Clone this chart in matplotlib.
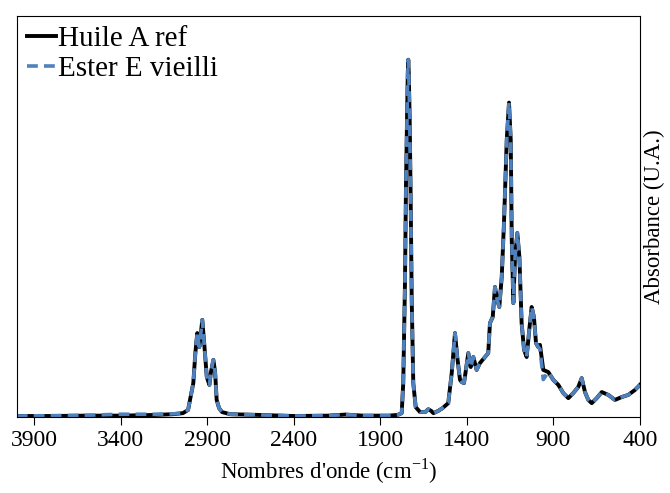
import numpy as np
import matplotlib
matplotlib.use('Agg')
import matplotlib.pyplot as plt

plt.rcParams['font.family'] = ['Liberation Serif', 'DejaVu Serif']
plt.rcParams['mathtext.fontset'] = 'custom'
plt.rcParams['mathtext.rm'] = 'Liberation Serif'

# wavenumbers (cm-1)
wn = [4000, 3800, 3600, 3400, 3200, 3100, 3040, 3010, 2999, 2980, 2968, 2957,
      2945, 2928, 2914, 2902, 2887, 2878, 2864, 2854, 2845, 2831, 2814, 2767,
      2600, 2400, 2200, 2100, 2000, 1850, 1800, 1776, 1767, 1757, 1751, 1745,
      1741, 1738, 1735, 1730, 1724, 1718, 1709, 1695, 1670, 1640, 1622, 1605,
      1593, 1566, 1540, 1507, 1487, 1468, 1455, 1439, 1429, 1416, 1391, 1377,
      1362, 1343, 1324, 1295, 1276, 1266, 1250, 1237, 1224, 1212, 1198, 1185,
      1169, 1156, 1146, 1140, 1131, 1121, 1108, 1096, 1083, 1069, 1054, 1039,
      1025, 1012, 1000, 987, 977, 958, 929, 900, 871, 842, 813, 785, 756, 736,
      717, 698, 678, 649, 620, 582, 544, 505, 467, 428, 400]

huile_ref = [0.003, 0.003, 0.004, 0.004, 0.006, 0.008, 0.011, 0.020, 0.048, 0.095,
             0.180, 0.235, 0.196, 0.272, 0.188, 0.112, 0.090, 0.126, 0.160, 0.126,
             0.048, 0.025, 0.014, 0.008, 0.006, 0.003, 0.004, 0.007, 0.004, 0.004,
             0.006, 0.011, 0.095, 0.375, 0.655, 0.840, 0.960, 1.000, 0.960, 0.840,
             0.608, 0.328, 0.095, 0.028, 0.014, 0.014, 0.022, 0.017, 0.011, 0.017,
             0.025, 0.039, 0.123, 0.235, 0.168, 0.104, 0.098, 0.095, 0.179, 0.140,
             0.168, 0.132, 0.151, 0.168, 0.179, 0.263, 0.280, 0.364, 0.328, 0.308,
             0.392, 0.543, 0.776, 0.880, 0.776, 0.496, 0.319, 0.448, 0.515, 0.448,
             0.263, 0.188, 0.168, 0.244, 0.308, 0.280, 0.207, 0.196, 0.202, 0.132,
             0.126, 0.104, 0.090, 0.067, 0.053, 0.067, 0.084, 0.109, 0.070, 0.048,
             0.039, 0.053, 0.070, 0.062, 0.048, 0.056, 0.062, 0.076, 0.090]

ester_vieilli = [0.003, 0.004, 0.005, 0.008, 0.008, 0.009, 0.011, 0.020, 0.048, 0.095,
                 0.180, 0.235, 0.196, 0.272, 0.188, 0.112, 0.090, 0.126, 0.160, 0.126,
                 0.048, 0.025, 0.014, 0.008, 0.006, 0.003, 0.004, 0.007, 0.004, 0.004,
                 0.006, 0.011, 0.095, 0.375, 0.655, 0.840, 0.960, 1.000, 0.960, 0.840,
                 0.608, 0.328, 0.095, 0.028, 0.014, 0.014, 0.022, 0.017, 0.011, 0.017,
                 0.025, 0.039, 0.123, 0.235, 0.168, 0.104, 0.098, 0.095, 0.179, 0.140,
                 0.168, 0.132, 0.151, 0.168, 0.179, 0.263, 0.280, 0.364, 0.328, 0.308,
                 0.392, 0.543, 0.776, 0.880, 0.776, 0.496, 0.319, 0.448, 0.515, 0.448,
                 0.263, 0.188, 0.168, 0.244, 0.308, 0.280, 0.207, 0.196, 0.190, 0.105,
                 0.126, 0.104, 0.090, 0.067, 0.053, 0.067, 0.084, 0.109, 0.070, 0.048,
                 0.039, 0.053, 0.070, 0.062, 0.048, 0.056, 0.062, 0.076, 0.090]

xticks = [3900, 3400, 2900, 2400, 1900, 1400, 900, 400]

fig = plt.figure(figsize=(6.7, 4.93), dpi=100)
ax = fig.add_axes([0.025, 0.154, 0.93, 0.814])

ax.plot(wn, huile_ref, color='black', lw=2.8, label='Huile A ref')
ax.plot(wn, ester_vieilli, color='#4F81BD', lw=2.6, dashes=(3, 1.7),
        label='Ester E vieilli')

ax.set_xlim(4000, 400)
ax.set_ylim(0, 1.123)
ax.set_xticks(xticks)
ax.set_yticks([])
ax.tick_params(axis='x', direction='out', length=6, labelsize=17, pad=3)
ax.set_xlabel("Nombres d'onde (cm$^{\\mathrm{-1}}$)", fontsize=16.5, labelpad=4)
ax.yaxis.set_label_position('right')
ax.set_ylabel('Absorbance (U.A.)', fontsize=16.5, labelpad=3)

ax.legend(loc='upper left', frameon=False, fontsize=21, handlelength=1.0,
          handletextpad=0.05, borderaxespad=0.1, labelspacing=0.1,
          borderpad=0.25)

plt.savefig('out.png', dpi=100)
